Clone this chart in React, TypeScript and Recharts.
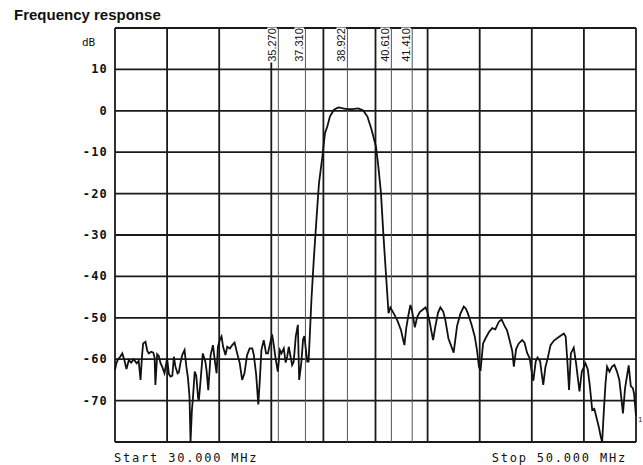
import React from 'react';
import { LineChart, Line, XAxis, YAxis, CartesianGrid, ReferenceLine } from 'recharts';

const freqMHz = [
  30.0, 30.05, 30.12, 30.2, 30.28, 30.36, 30.44, 30.53, 30.62, 30.72, 30.83, 30.91, 30.98, 31.04, 31.08, 31.17,
  31.24, 31.3, 31.39, 31.47, 31.52, 31.55, 31.62, 31.68, 31.75, 31.81, 31.9, 31.94, 32.0, 32.07, 32.13, 32.2,
  32.26, 32.32, 32.4, 32.45, 32.51, 32.58, 32.67, 32.74, 32.8, 32.86, 32.9, 32.95, 32.99, 33.06, 33.12, 33.19,
  33.22, 33.28, 33.37, 33.47, 33.52, 33.58, 33.67, 33.76, 33.83, 33.9, 33.95, 34.02, 34.09, 34.15, 34.24, 34.31,
  34.41, 34.5, 34.59, 34.69, 34.79, 34.88, 34.97, 35.07, 35.17, 35.27, 35.33, 35.42, 35.5, 35.56, 35.62, 35.71,
  35.8, 35.87, 35.94, 36.03, 36.1, 36.16, 36.25, 36.33, 36.39, 36.48, 36.55, 36.61, 36.67, 36.74, 36.8, 36.86,
  36.94, 37.02, 37.07, 37.15, 37.22, 37.27, 37.33, 37.38, 37.43, 37.48, 37.54, 37.63, 37.74, 37.83, 37.96, 38.06,
  38.15, 38.25, 38.4, 38.5, 38.59, 38.75, 38.9, 39.1, 39.34, 39.53, 39.69, 39.85, 40.02, 40.11, 40.21, 40.3,
  40.4, 40.46, 40.5, 40.57, 40.65, 40.73, 40.85, 40.98, 41.05, 41.11, 41.18, 41.26, 41.34, 41.4, 41.51, 41.6,
  41.7, 41.82, 41.92, 41.99, 42.08, 42.21, 42.3, 42.4, 42.49, 42.6, 42.68, 42.8, 43.0, 43.13, 43.26, 43.39,
  43.47, 43.55, 43.68, 43.81, 43.9, 43.97, 44.03, 44.13, 44.22, 44.35, 44.48, 44.6, 44.73, 44.84, 44.96, 45.05,
  45.15, 45.25, 45.31, 45.4, 45.5, 45.63, 45.72, 45.82, 45.92, 46.02, 46.06, 46.15, 46.22, 46.32, 46.38, 46.44,
  46.52, 46.62, 46.72, 46.85, 47.05, 47.23, 47.3, 47.36, 47.43, 47.5, 47.61, 47.7, 47.83, 47.92, 48.06, 48.15,
  48.22, 48.32, 48.4, 48.48, 48.57, 48.64, 48.7, 48.77, 48.83, 48.89, 48.98, 49.08, 49.17, 49.27, 49.36, 49.43,
  49.5, 49.58, 49.72, 49.8, 49.88, 49.93, 50.0,
];

const levelDb = [
  -62.6, -61.0, -60.0, -59.4, -58.6, -60.2, -62.4, -60.2, -60.8, -60.0, -61.0, -60.4, -65.0, -59.0, -56.2, -55.8,
  -58.0, -58.6, -58.2, -58.4, -59.6, -66.2, -58.8, -59.2, -61.0, -61.8, -63.4, -62.0, -59.8, -63.6, -64.2, -64.0,
  -59.4, -61.8, -63.4, -63.2, -61.0, -59.0, -57.8, -61.8, -64.5, -69.0, -80.0, -72.5, -69.5, -63.0, -64.0, -69.4,
  -69.9, -65.5, -58.6, -60.6, -63.0, -67.5, -59.0, -56.6, -60.2, -63.4, -57.0, -55.4, -54.5, -57.0, -59.0, -57.0,
  -57.4, -56.6, -56.0, -58.6, -61.0, -65.0, -63.4, -59.0, -57.4, -57.4, -59.0, -63.8, -70.9, -65.0, -57.8, -55.4,
  -58.6, -58.6, -56.6, -54.0, -56.8, -59.6, -63.0, -57.8, -58.6, -57.4, -60.8, -59.4, -57.0, -59.4, -61.4, -60.6,
  -54.5, -51.7, -65.0, -61.0, -55.2, -54.4, -57.8, -60.6, -60.6, -54.0, -45.7, -36.0, -25.6, -17.5, -11.1, -5.4,
  -3.8, -1.4, 0.2, 0.6, 0.8, 0.6, 0.4, 0.4, 0.6, 0.1, -1.4, -4.6, -8.7, -13.5, -19.9, -29.6,
  -39.3, -45.0, -48.9, -47.5, -48.4, -49.3, -50.8, -53.0, -55.0, -56.6, -52.5, -49.5, -46.9, -48.2, -52.3, -49.8,
  -48.6, -48.0, -47.5, -48.5, -51.0, -55.4, -52.0, -48.8, -47.5, -48.5, -50.5, -55.0, -58.4, -52.0, -49.0, -47.3,
  -47.8, -49.0, -51.5, -54.5, -58.0, -61.8, -62.8, -56.2, -55.0, -53.5, -52.5, -52.8, -51.0, -50.4, -52.0, -53.0,
  -55.5, -58.0, -61.8, -57.5, -56.2, -55.4, -56.0, -58.5, -59.8, -64.0, -65.2, -60.5, -59.6, -60.5, -63.5, -66.2,
  -62.0, -59.5, -56.6, -55.5, -54.6, -53.8, -54.5, -60.0, -67.4, -58.6, -57.2, -61.0, -67.8, -63.0, -61.0, -62.5,
  -66.0, -72.3, -72.0, -74.0, -76.3, -78.5, -80.0, -72.0, -65.8, -61.8, -63.0, -61.8, -61.4, -63.0, -65.0, -69.0,
  -73.1, -67.0, -61.5, -66.5, -67.0, -68.5, -73.7,
];

const xTicks = [30, 32, 34, 36, 38, 40, 42, 44, 46, 48, 50];
const yTicks = [-80, -70, -60, -50, -40, -30, -20, -10, 0, 10, 20];
const yTickLabels = ['', '-70', '-60', '-50', '-40', '-30', '-20', '-10', '0', '10', ''];

const markerFreqs = [36.27, 37.31, 38.922, 40.61, 41.41];
const markerLabels = ['35.270', '37.310', '38.922', '40.610', '41.410'];

const data = freqMHz.map((f, i) => ({ f, db: levelDb[i] }));

const monoFont = '"DejaVu Sans Mono", "Liberation Mono", monospace';
const sansFont = '"Liberation Sans", Arial, sans-serif';

const YTick = (props: any) => {
  const { x, y, payload } = props;
  const idx = yTicks.indexOf(payload.value);
  const label = idx >= 0 ? yTickLabels[idx] : '';
  if (!label) return <g />;
  return (
    <text
      x={x + 1}
      y={y}
      dy={4}
      textAnchor="end"
      fontFamily={monoFont}
      fontWeight="bold"
      fontSize={12}
      letterSpacing={1.2}
      fill="#111"
    >
      {label}
    </text>
  );
};

const makeMarkerLabel = (text: string) => (props: any) => {
  const vb = props.viewBox || {};
  const x = (vb.x ?? 0) - 2;
  const y = (vb.y ?? 0) + 17;
  return (
    <g>
      <rect x={x - 9} y={y - 17.5} width={9.5} height={35} fill="#fff" />
      <text
        x={x}
        y={y}
        transform={`rotate(-90 ${x} ${y})`}
        textAnchor="middle"
        fontFamily={sansFont}
        fontSize={11}
        fill="#111"
      >
        {text}
      </text>
    </g>
  );
};

const verticalGen = (props: any) => {
  const scale = props?.xAxis?.scale;
  if (typeof scale === 'function') return xTicks.map((t) => scale(t));
  if (scale && typeof scale.map === 'function') return xTicks.map((t) => scale.map(t));
  return [];
};

export default function App() {
  return (
    <div style={{ position: 'absolute', left: 0, top: 0, width: 643, height: 465, background: '#fff' }}>
      <div
        style={{
          position: 'absolute',
          left: 14,
          top: 7,
          fontFamily: sansFont,
          fontWeight: 'bold',
          fontSize: 15,
          lineHeight: '15px',
          color: '#111',
          whiteSpace: 'nowrap',
        }}
      >
        Frequency response
      </div>
      <LineChart width={643} height={465} data={data} margin={{ top: 28, right: 7, bottom: 23, left: 75 }}>
        <CartesianGrid stroke="#1a1a1a" strokeWidth={1.8} verticalCoordinatesGenerator={verticalGen} />
        <XAxis
          dataKey="f"
          type="number"
          domain={[30, 50]}
          ticks={xTicks}
          tick={false}
          axisLine={false}
          tickLine={false}
          height={0}
        />
        <YAxis
          type="number"
          domain={[-80, 20]}
          ticks={yTicks}
          width={40}
          axisLine={false}
          tickLine={false}
          tick={<YTick />}
          interval={0}
        />
        {markerFreqs.map((mf, i) => (
          <ReferenceLine
            key={mf}
            x={mf}
            stroke="#555"
            strokeWidth={1}
            label={makeMarkerLabel(markerLabels[i])}
          />
        ))}
        <Line
          type="linear"
          dataKey="db"
          stroke="#111"
          strokeWidth={1.8}
          dot={false}
          isAnimationActive={false}
        />
      </LineChart>
      <div style={{ position: 'absolute', left: 82, top: 37, fontFamily: monoFont, fontSize: 11, color: '#111', lineHeight: '12px' }}>
        dB
      </div>
      <div
        style={{
          position: 'absolute',
          left: 114,
          top: 452,
          fontFamily: monoFont,
          fontSize: 12,
          letterSpacing: 1.8,
          lineHeight: '13px',
          color: '#111',
          whiteSpace: 'pre',
        }}
      >
        Start 30.000 MHz
      </div>
      <div
        style={{
          position: 'absolute',
          right: 643 - 627,
          top: 452,
          fontFamily: monoFont,
          fontSize: 12,
          letterSpacing: 1.8,
          lineHeight: '13px',
          color: '#111',
          whiteSpace: 'pre',
        }}
      >
        Stop 50.000 MHz
      </div>
      <div style={{ position: 'absolute', left: 638, top: 415, fontFamily: sansFont, fontSize: 8, color: '#333', lineHeight: '9px' }}>
        1
      </div>
    </div>
  );
}
